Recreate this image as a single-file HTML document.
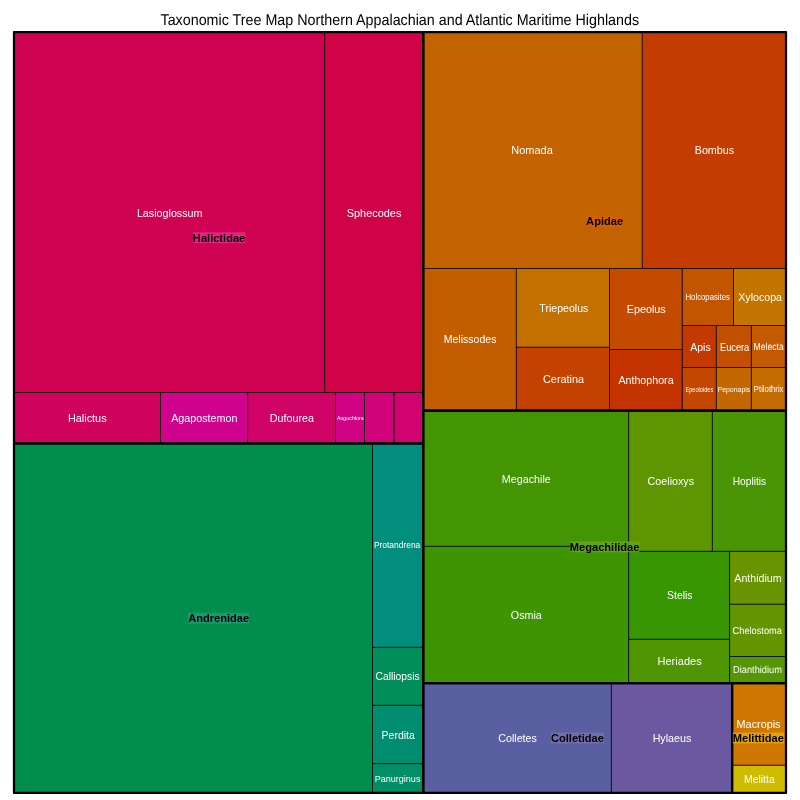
<!DOCTYPE html>
<html lang="en"><head><meta charset="utf-8"><title>Taxonomic Tree Map</title>
<style>html,body{margin:0;padding:0;background:#fff}body{width:800px;height:800px;overflow:hidden}svg{display:block}text{font-family:"Liberation Sans",sans-serif}.g{fill:#fff}.f{fill:#000;font-weight:bold;font-size:11px;text-anchor:middle}.r{stroke:#000;stroke-width:0.75}.b{fill:none;stroke:#000;stroke-width:2.25;stroke-linejoin:round}</style></head><body>
<svg width="800" height="800" viewBox="0 0 800 800">
<rect width="800" height="800" fill="#fff"/>
<text x="399.8" y="25" style="text-rendering:geometricPrecision" font-size="15.5" textLength="478.6" lengthAdjust="spacingAndGlyphs" text-anchor="middle" fill="#000">Taxonomic Tree Map Northern Appalachian and Atlantic Maritime Highlands</text>
<rect class="r" x="14" y="32.05" width="310.75" height="360.4" fill="#D00353"/>
<rect class="r" x="324.75" y="32.05" width="98.5" height="360.4" fill="#D00349"/>
<rect class="r" x="14" y="392.45" width="146.5" height="50.95" fill="#D0035D"/>
<rect class="r" x="160.5" y="392.45" width="87.2" height="50.95" fill="#D0038E"/>
<rect class="r" x="247.7" y="392.45" width="87.8" height="50.95" fill="#D00367"/>
<rect class="r" x="335.5" y="392.45" width="29" height="50.95" fill="#D00384"/>
<rect class="r" x="364.5" y="392.45" width="29.6" height="50.95" fill="#D0037A"/>
<rect class="r" x="394.1" y="392.45" width="29.15" height="50.95" fill="#D00370"/>
<rect class="r" x="14" y="443.4" width="358.5" height="349.5" fill="#018E4C"/>
<rect class="r" x="372.5" y="443.4" width="50.75" height="203.9" fill="#018E7C"/>
<rect class="r" x="372.5" y="647.3" width="50.75" height="58" fill="#018E58"/>
<rect class="r" x="372.5" y="705.3" width="50.75" height="58.4" fill="#018E70"/>
<rect class="r" x="372.5" y="763.7" width="50.75" height="29.2" fill="#018E64"/>
<rect class="r" x="423.25" y="32.05" width="219" height="236.35" fill="#C36200"/>
<rect class="r" x="642.25" y="32.05" width="143.75" height="236.35" fill="#C33D00"/>
<rect class="r" x="423.25" y="268.4" width="93.05" height="142.15" fill="#C35E00"/>
<rect class="r" x="516.3" y="268.4" width="93.2" height="78.85" fill="#C37000"/>
<rect class="r" x="516.3" y="347.25" width="93.2" height="63.3" fill="#C34200"/>
<rect class="r" x="609.5" y="268.4" width="72.75" height="81" fill="#C34B00"/>
<rect class="r" x="609.5" y="349.4" width="72.75" height="61.15" fill="#C33400"/>
<rect class="r" x="682.25" y="268.4" width="51.3" height="57" fill="#C35400"/>
<rect class="r" x="733.55" y="268.4" width="52.45" height="57" fill="#C37500"/>
<rect class="r" x="682.25" y="325.4" width="34.05" height="42" fill="#C33900"/>
<rect class="r" x="716.3" y="325.4" width="35" height="42" fill="#C35000"/>
<rect class="r" x="751.3" y="325.4" width="34.7" height="42" fill="#C35900"/>
<rect class="r" x="682.25" y="367.4" width="34.05" height="43.15" fill="#C34700"/>
<rect class="r" x="716.3" y="367.4" width="35" height="43.15" fill="#C36700"/>
<rect class="r" x="751.3" y="367.4" width="34.7" height="43.15" fill="#C36C00"/>
<rect class="r" x="423.25" y="410.55" width="205.5" height="135.75" fill="#449503"/>
<rect class="r" x="423.25" y="546.3" width="205.5" height="136.8" fill="#3E9503"/>
<rect class="r" x="628.75" y="410.55" width="83.55" height="140.75" fill="#5D9503"/>
<rect class="r" x="712.3" y="410.55" width="73.7" height="140.75" fill="#4A9503"/>
<rect class="r" x="628.75" y="551.3" width="100.95" height="88" fill="#389503"/>
<rect class="r" x="628.75" y="639.3" width="100.95" height="43.8" fill="#509503"/>
<rect class="r" x="729.7" y="551.3" width="56.3" height="52.95" fill="#699503"/>
<rect class="r" x="729.7" y="604.25" width="56.3" height="52.15" fill="#639503"/>
<rect class="r" x="729.7" y="656.4" width="56.3" height="26.7" fill="#569503"/>
<rect class="r" x="423.25" y="683.1" width="188.05" height="109.8" fill="#595FA1"/>
<rect class="r" x="611.3" y="683.1" width="120.8" height="109.8" fill="#6A59A1"/>
<rect class="r" x="732.1" y="683.1" width="53.9" height="82.15" fill="#CF7700"/>
<rect class="r" x="732.1" y="765.25" width="53.9" height="27.65" fill="#CFBC00"/>
<rect class="b" x="14" y="32.05" width="409.25" height="411.35"/>
<rect class="b" x="14" y="443.4" width="409.25" height="349.5"/>
<rect class="b" x="423.25" y="32.05" width="362.75" height="378.5"/>
<rect class="b" x="423.25" y="410.55" width="362.75" height="272.55"/>
<rect class="b" x="423.25" y="683.1" width="308.85" height="109.8"/>
<rect class="b" x="732.1" y="683.1" width="53.9" height="109.8"/>
<text class="g" x="136.92" y="217" font-size="11" textLength="65.59" lengthAdjust="spacingAndGlyphs">Lasioglossum</text>
<text class="g" x="346.7" y="217" font-size="11" textLength="54.69" lengthAdjust="spacingAndGlyphs">Sphecodes</text>
<text class="g" x="67.91" y="422" font-size="11" textLength="38.69" lengthAdjust="spacingAndGlyphs">Halictus</text>
<text class="g" x="171.18" y="422" font-size="11" textLength="66.27" lengthAdjust="spacingAndGlyphs">Agapostemon</text>
<text class="g" x="269.84" y="422" font-size="11" textLength="44.12" lengthAdjust="spacingAndGlyphs">Dufourea</text>
<text class="g" x="336.89" y="420" font-size="5.6" textLength="26.86" lengthAdjust="spacingAndGlyphs">Augochlora</text>
<text class="g" x="373.91" y="548" font-size="8.2" textLength="46.39" lengthAdjust="spacingAndGlyphs">Protandrena</text>
<text class="g" x="375.47" y="680" font-size="11" textLength="44.21" lengthAdjust="spacingAndGlyphs">Calliopsis</text>
<text class="g" x="381.58" y="739" font-size="11" textLength="33.19" lengthAdjust="spacingAndGlyphs">Perdita</text>
<text class="g" x="374.71" y="782" font-size="8.8" textLength="45.72" lengthAdjust="spacingAndGlyphs">Panurginus</text>
<text class="g" x="511.3" y="154" font-size="11" textLength="41.5" lengthAdjust="spacingAndGlyphs">Nomada</text>
<text class="g" x="694.75" y="154" font-size="11" textLength="39.34" lengthAdjust="spacingAndGlyphs">Bombus</text>
<text class="g" x="443.65" y="343" font-size="11" textLength="52.85" lengthAdjust="spacingAndGlyphs">Melissodes</text>
<text class="g" x="539.36" y="312" font-size="11" textLength="49.02" lengthAdjust="spacingAndGlyphs">Triepeolus</text>
<text class="g" x="543.05" y="383" font-size="11" textLength="40.95" lengthAdjust="spacingAndGlyphs">Ceratina</text>
<text class="g" x="626.71" y="313" font-size="11" textLength="39.08" lengthAdjust="spacingAndGlyphs">Epeolus</text>
<text class="g" x="618.38" y="384" font-size="11" textLength="55.22" lengthAdjust="spacingAndGlyphs">Anthophora</text>
<text class="g" x="685.51" y="300" font-size="8.4" textLength="44.43" lengthAdjust="spacingAndGlyphs">Holcopasites</text>
<text class="g" x="738.26" y="301" font-size="11" textLength="43.74" lengthAdjust="spacingAndGlyphs">Xylocopa</text>
<text class="g" x="690.18" y="351" font-size="11" textLength="20.52" lengthAdjust="spacingAndGlyphs">Apis</text>
<text class="g" x="719.99" y="351" font-size="11" textLength="29.26" lengthAdjust="spacingAndGlyphs">Eucera</text>
<text class="g" style="text-rendering:geometricPrecision" x="753.54" y="350" font-size="10.17" textLength="30.21" lengthAdjust="spacingAndGlyphs">Melecta</text>
<text class="g" x="685.44" y="392" font-size="6.8" textLength="27.76" lengthAdjust="spacingAndGlyphs">Epeoloides</text>
<text class="g" x="717.52" y="392" font-size="7" textLength="32.83" lengthAdjust="spacingAndGlyphs">Peponapis</text>
<text class="g" x="753.86" y="392" font-size="8.4" textLength="29.62" lengthAdjust="spacingAndGlyphs">Ptilothrix</text>
<text class="g" x="501.86" y="483" font-size="11" textLength="48.89" lengthAdjust="spacingAndGlyphs">Megachile</text>
<text class="g" x="510.81" y="619" font-size="11" textLength="30.99" lengthAdjust="spacingAndGlyphs">Osmia</text>
<text class="g" x="647.58" y="485" font-size="11" textLength="46.49" lengthAdjust="spacingAndGlyphs">Coelioxys</text>
<text class="g" x="732.66" y="485" font-size="11" textLength="33.57" lengthAdjust="spacingAndGlyphs">Hoplitis</text>
<text class="g" x="667.11" y="599" font-size="11" textLength="25.37" lengthAdjust="spacingAndGlyphs">Stelis</text>
<text class="g" x="657.49" y="665" font-size="11" textLength="44.21" lengthAdjust="spacingAndGlyphs">Heriades</text>
<text class="g" x="734.28" y="582" font-size="11" textLength="47.42" lengthAdjust="spacingAndGlyphs">Anthidium</text>
<text class="g" style="text-rendering:geometricPrecision" x="732.58" y="634" font-size="10.17" textLength="49.32" lengthAdjust="spacingAndGlyphs">Chelostoma</text>
<text class="g" style="text-rendering:geometricPrecision" x="733.04" y="673" font-size="10.17" textLength="48.87" lengthAdjust="spacingAndGlyphs">Dianthidium</text>
<text class="g" x="498.2" y="742" font-size="11" textLength="38.75" lengthAdjust="spacingAndGlyphs">Colletes</text>
<text class="g" x="652.63" y="742" font-size="11" textLength="38.75" lengthAdjust="spacingAndGlyphs">Hylaeus</text>
<text class="g" x="736.6" y="728" font-size="11" textLength="43.9" lengthAdjust="spacingAndGlyphs">Macropis</text>
<text class="g" x="743.95" y="783" font-size="11" textLength="30.79" lengthAdjust="spacingAndGlyphs">Melitta</text>
<rect x="192.89" y="232.32" width="52.38" height="10.8" fill="#E7298A" fill-opacity="0.863"/>
<text class="f" x="219.07" y="242" textLength="52.38" lengthAdjust="spacingAndGlyphs">Halictidae</text>
<rect x="188.13" y="612.75" width="60.99" height="10.8" fill="#1B9E77" fill-opacity="0.863"/>
<text class="f" x="218.62" y="622" textLength="60.99" lengthAdjust="spacingAndGlyphs">Andrenidae</text>
<rect x="586.14" y="215.9" width="36.96" height="10.8" fill="#D95F02" fill-opacity="0.863"/>
<text class="f" x="604.62" y="225" textLength="36.96" lengthAdjust="spacingAndGlyphs">Apidae</text>
<rect x="569.81" y="541.43" width="69.62" height="10.8" fill="#66A61E" fill-opacity="0.863"/>
<text class="f" x="604.62" y="551" textLength="69.62" lengthAdjust="spacingAndGlyphs">Megachilidae</text>
<rect x="550.98" y="732.6" width="52.98" height="10.8" fill="#7570B3" fill-opacity="0.863"/>
<text class="f" x="577.47" y="742" textLength="52.98" lengthAdjust="spacingAndGlyphs">Colletidae</text>
<rect x="732.83" y="732.6" width="51.13" height="10.8" fill="#E6AB02" fill-opacity="0.863"/>
<text class="f" x="758.4" y="742" textLength="51.13" lengthAdjust="spacingAndGlyphs">Melittidae</text>
</svg></body></html>
